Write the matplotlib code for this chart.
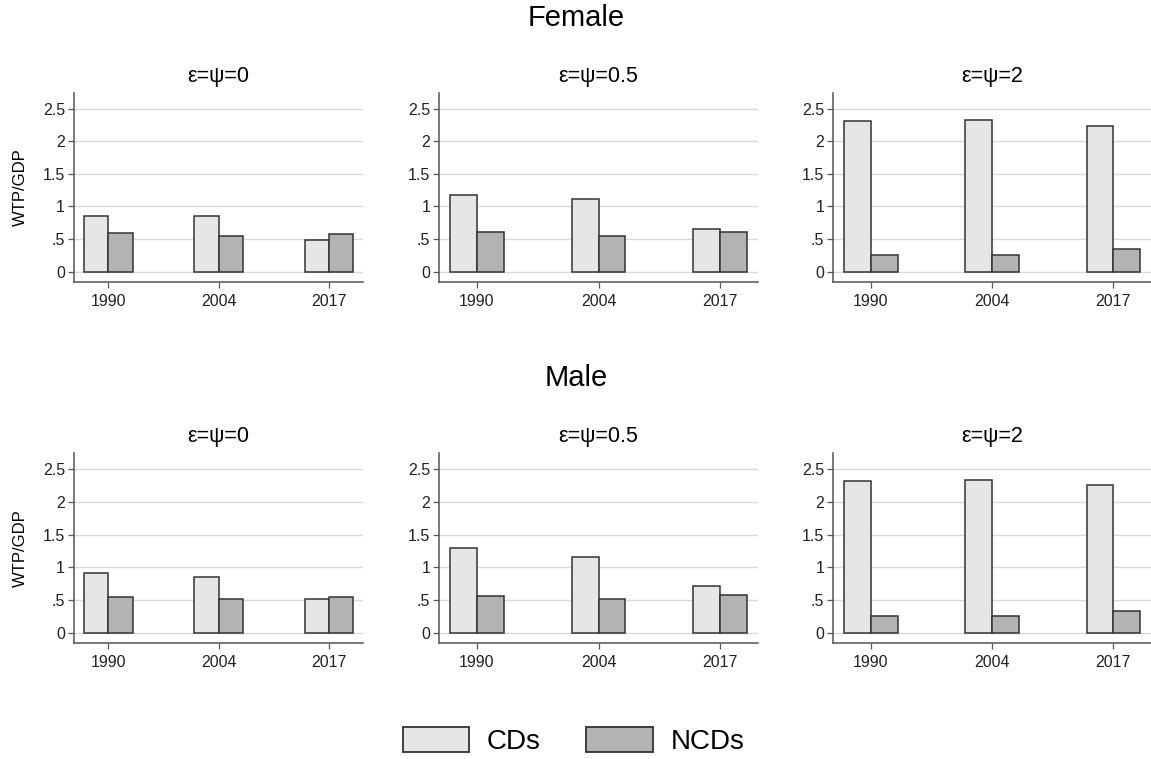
import matplotlib.pyplot as plt
from matplotlib.patches import Patch

plt.rcParams['font.family'] = ['Liberation Sans', 'DejaVu Sans']

years = ["1990", "2004", "2017"]
scenarios = ["ε=ψ=0", "ε=ψ=0.5", "ε=ψ=2"]
yticks = [0, 0.5, 1, 1.5, 2, 2.5]
ytick_labels = ["0", ".5", "1", "1.5", "2", "2.5"]

# WTP/GDP by scenario (rows) and year (columns)
female_cds = [[0.85, 0.85, 0.485],
              [1.18, 1.11, 0.65],
              [2.31, 2.32, 2.24]]
female_ncds = [[0.59, 0.54, 0.58],
               [0.60, 0.55, 0.60],
               [0.25, 0.255, 0.35]]
male_cds = [[0.92, 0.855, 0.52],
            [1.29, 1.15, 0.72],
            [2.32, 2.34, 2.25]]
male_ncds = [[0.54, 0.52, 0.55],
             [0.56, 0.52, 0.57],
             [0.25, 0.256, 0.33]]

CD_COLOR = "#e6e6e6"
NCD_COLOR = "#b3b3b3"
EDGE = "#333333"
W, H = 1151, 759

# panel boxes in pixels: (left, right) and (top, bottom)
cols = [(74, 363.3), (439.3, 757.7), (833.3, 1151)]
rows = [(93, 282), (453.3, 643.3)]
groups = [("Female", 18, female_cds, female_ncds),
          ("Male", 378, male_cds, male_ncds)]

fig = plt.figure(figsize=(W / 100, H / 100), dpi=100)

for r, (name, title_y, cds, ncds) in enumerate(groups):
    fig.text(576.5 / W, 1 - title_y / H, name, ha="center", va="center", fontsize=21)
    top, bottom = rows[r]
    for c, (left, right) in enumerate(cols):
        ax = fig.add_axes([left / W, 1 - bottom / H, (right - left) / W, (bottom - top) / H])
        x = range(len(years))
        ax.bar(x, cds[c], width=-0.22, align="edge", color=CD_COLOR,
               edgecolor=EDGE, linewidth=1.1, zorder=3)
        ax.bar(x, ncds[c], width=0.22, align="edge", color=NCD_COLOR,
               edgecolor=EDGE, linewidth=1.1, zorder=3)
        ax.set_xlim(-0.31, 2.31)
        ax.set_ylim(-0.16, 2.74)
        ax.set_xticks(list(x))
        ax.set_xticklabels(years)
        ax.set_yticks(yticks)
        ax.set_yticklabels(ytick_labels)
        ax.grid(axis="y", color="#dadada", linewidth=1.0, zorder=0)
        for side in ("top", "right"):
            ax.spines[side].set_visible(False)
        for side in ("left", "bottom"):
            ax.spines[side].set_color("#555555")
            ax.spines[side].set_linewidth(1.1)
        ax.tick_params(axis="y", length=4.5, width=0.9, color="#555555",
                       pad=2, labelsize=11.5, labelcolor="#222222")
        ax.tick_params(axis="x", length=4.5, width=0.9, color="#555555",
                       pad=4, labelsize=11.5, labelcolor="#222222")
        ax.set_title(scenarios[c], fontsize=15.5, pad=8)
        if c == 0:
            ax.set_ylabel("WTP/GDP", fontsize=12, labelpad=11)

handles = [Patch(facecolor=CD_COLOR, edgecolor=EDGE, linewidth=1.3, label="CDs"),
           Patch(facecolor=NCD_COLOR, edgecolor=EDGE, linewidth=1.3, label="NCDs")]
fig.legend(handles=handles, loc="center", bbox_to_anchor=(573.5 / W, 1 - 741 / H),
           ncol=2, frameon=False, fontsize=20, handlelength=2.4, handleheight=1.0,
           handletextpad=0.64, columnspacing=1.62, borderpad=0)

fig.savefig("out.png", dpi=100)
